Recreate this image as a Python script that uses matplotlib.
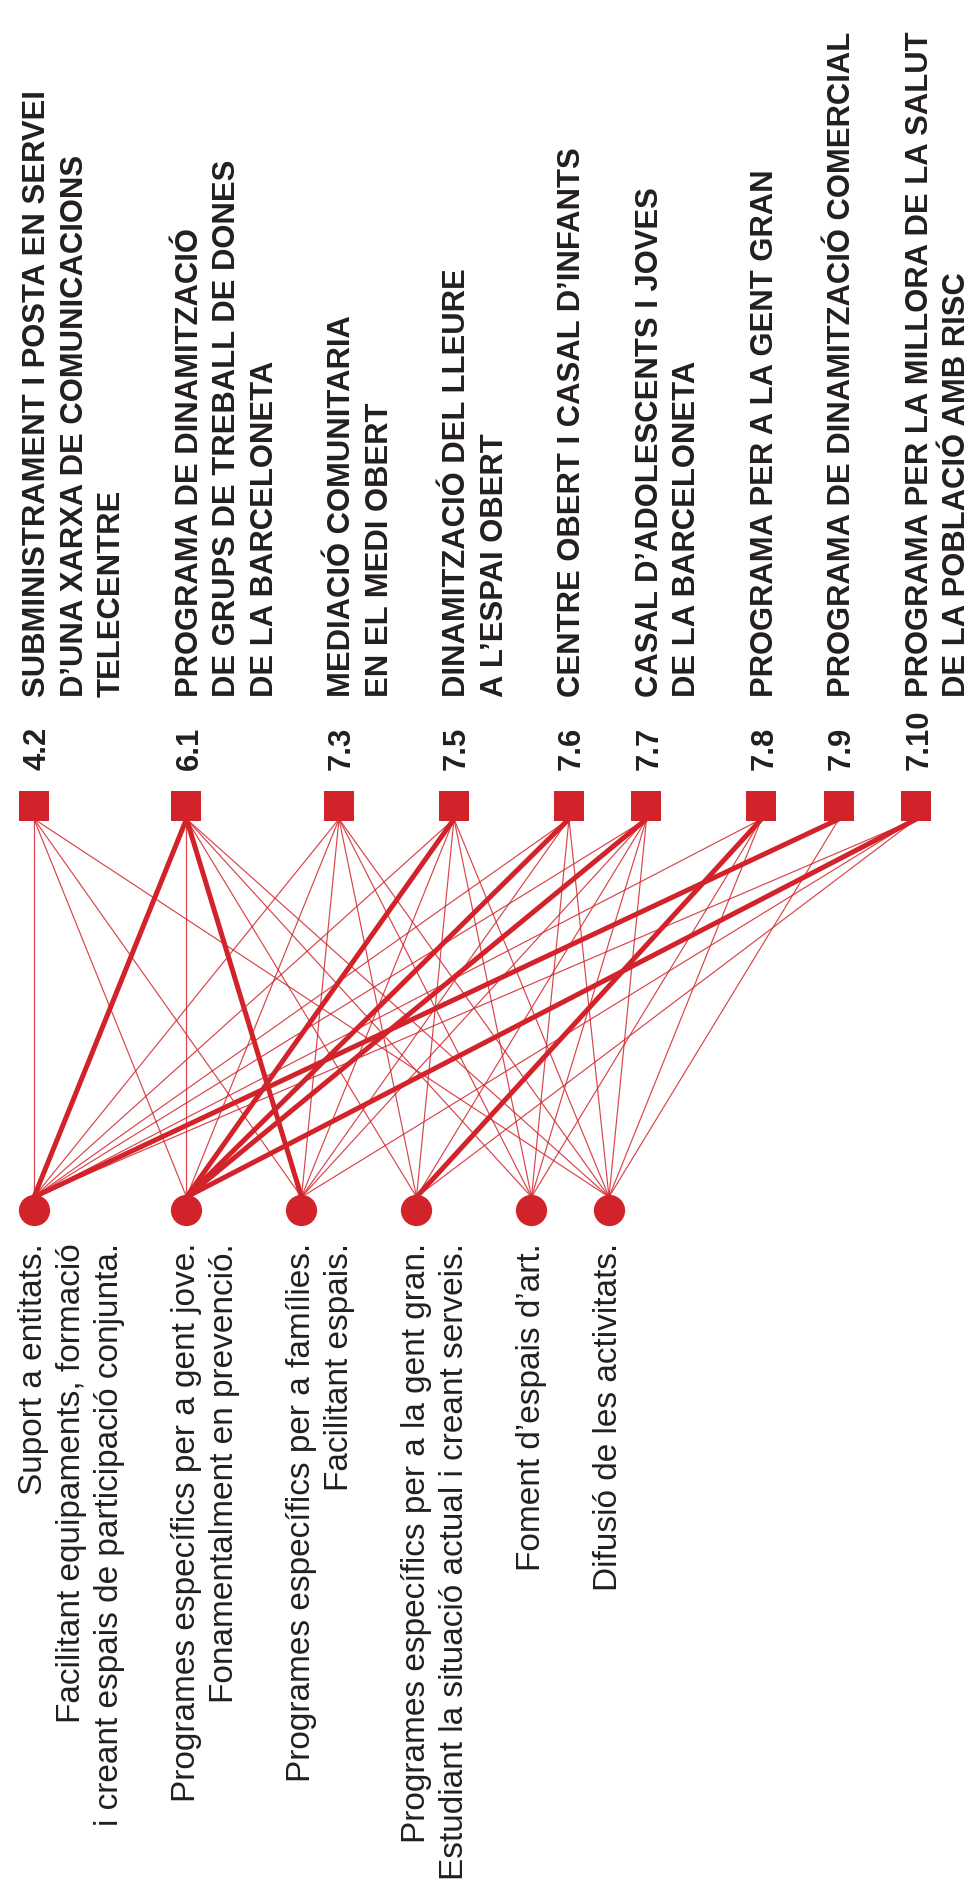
import matplotlib
matplotlib.use("Agg")
import matplotlib.pyplot as plt

# ---------------- data ----------------
program_codes = ["4.2", "6.1", "7.3", "7.5", "7.6", "7.7", "7.8", "7.9", "7.10"]
program_labels = [
    ["SUBMINISTRAMENT I POSTA EN SERVEI", "D’UNA XARXA DE COMUNICACIONS", "TELECENTRE"],
    ["PROGRAMA DE DINAMITZACIÓ", "DE GRUPS DE TREBALL DE DONES", "DE LA BARCELONETA"],
    ["MEDIACIÓ COMUNITARIA", "EN EL MEDI OBERT"],
    ["DINAMITZACIÓ DEL LLEURE", "A L’ESPAI OBERT"],
    ["CENTRE OBERT I CASAL D’INFANTS"],
    ["CASAL D’ADOLESCENTS I JOVES", "DE LA BARCELONETA"],
    ["PROGRAMA PER A LA GENT GRAN"],
    ["PROGRAMA DE DINAMITZACIÓ COMERCIAL"],
    ["PROGRAMA PER LA MILLORA DE LA SALUT", "DE LA POBLACIÓ AMB RISC"],
]
strategy_labels = [
    ["Suport a entitats.", "Facilitant equipaments, formació",
     "i creant espais de participació conjunta."],
    ["Programes específics per a gent jove.", "Fonamentalment en prevenció."],
    ["Programes específics per a famílies.", "Facilitant espais."],
    ["Programes específics per a la gent gran.",
     "Estudiant la situació actual i creant serveis."],
    ["Foment d’espais d’art."],
    ["Difusió de les activitats."],
]
# links: program index -> strategy index, strength (1 = normal, 2 = strong)
link_program = [0, 0, 0, 0,
                1, 1, 1, 1, 1, 1,
                2, 2, 2, 2, 2, 2,
                3, 3, 3, 3, 3, 3,
                4, 4, 4, 4, 4,
                5, 5, 5, 5, 5, 5,
                6, 6, 6, 6,
                7, 7,
                8, 8, 8, 8]
link_strategy = [0, 1, 2, 5,
                 0, 1, 2, 3, 4, 5,
                 0, 1, 2, 3, 4, 5,
                 0, 1, 2, 3, 4, 5,
                 0, 1, 2, 4, 5,
                 0, 1, 2, 3, 4, 5,
                 0, 3, 4, 5,
                 0, 5,
                 0, 1, 2, 3]
link_strength = [1, 1, 1, 1,
                 2, 1, 2, 1, 1, 1,
                 1, 1, 1, 1, 1, 1,
                 1, 2, 1, 1, 1, 1,
                 1, 2, 1, 1, 1,
                 1, 2, 1, 1, 1, 1,
                 1, 2, 1, 1,
                 2, 1,
                 1, 2, 1, 1]

# ---------------- style / layout ----------------
RED = "#D2232A"
INK = "#231F20"
W, H = 970, 1890
LINE = 37.5      # pitch of one text line (px)
GAP = 40         # gap between label blocks (px)
X0 = 34

def block_positions(blocks):
    xs, x = [], X0
    for b in blocks:
        xs.append(x)
        x += len(b) * LINE + GAP
    return xs

px = block_positions(program_labels)
sx = block_positions(strategy_labels)

SQ_Y, CI_Y = 807, 1211
LINE_TOP, LINE_BOT = 820, 1198

fig = plt.figure(figsize=(W / 100, H / 100), dpi=100)
ax = fig.add_axes([0, 0, 1, 1])
ax.set_xlim(0, W)
ax.set_ylim(H, 0)
ax.axis("off")

# links
for p, s, k in zip(link_program, link_strategy, link_strength):
    ax.plot([px[p], sx[s]], [LINE_TOP, LINE_BOT], color=RED,
            lw=3.6 if k == 2 else 0.85, alpha=1.0 if k == 2 else 0.85,
            solid_capstyle="butt", zorder=1)

# nodes
ax.scatter(px, [SQ_Y] * len(px), marker="s", s=22.0 ** 2, color=RED,
           linewidths=0, zorder=3)
ax.scatter(sx, [CI_Y] * len(sx), marker="o", s=22.5 ** 2, color=RED,
           linewidths=0, zorder=3)

# program texts
top_font = dict(family="Liberation Sans", weight="bold", size=22.3, color=INK)
CAP = 0.716 * 22.3 / 0.72
for x, code, lines in zip(px, program_codes, program_labels):
    ax.text(x + CAP / 2, 770, code, rotation=90, rotation_mode="anchor",
            ha="left", va="baseline", **top_font)
    for j, ln in enumerate(lines):
        ax.text(x + j * LINE + CAP / 2, 697, ln, rotation=90,
                rotation_mode="anchor", ha="left", va="baseline", **top_font)

# strategy texts
bot_font = dict(family="Liberation Sans", size=24, color=INK)
for x, lines in zip(sx, strategy_labels):
    for j, ln in enumerate(lines):
        ax.text(x + j * 38, 1243, ln, rotation=90, rotation_mode="anchor",
                ha="right", va="center", **bot_font)

fig.savefig("out.png", dpi=100)
